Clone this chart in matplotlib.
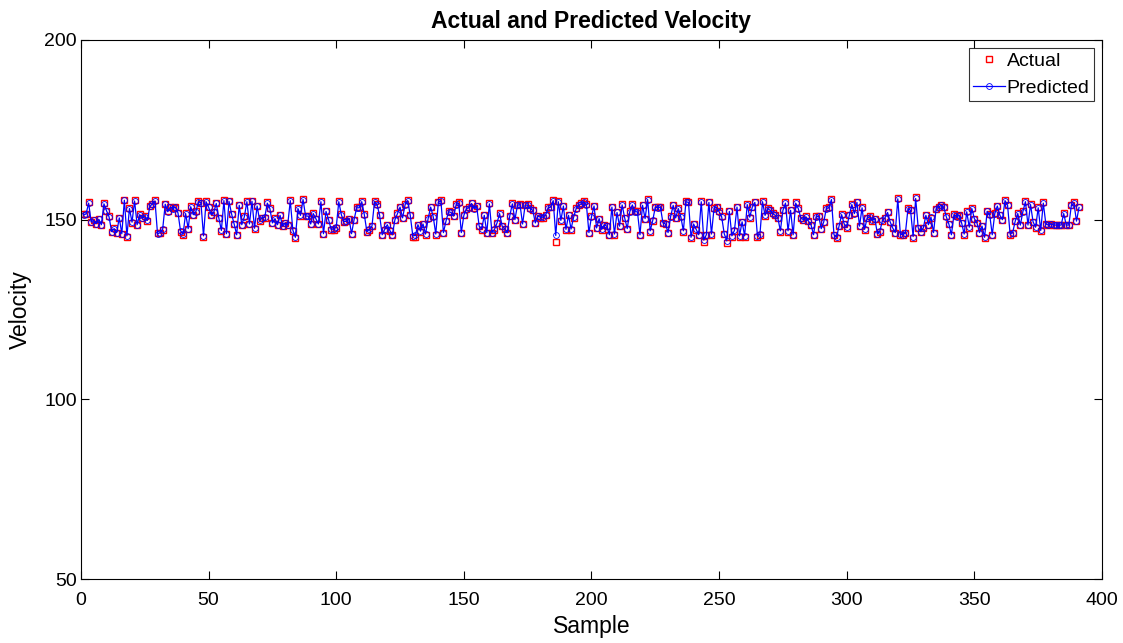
import matplotlib
matplotlib.use("Agg")
import matplotlib.pyplot as plt
import numpy as np

# Values, sample 1..391
actual = [
    151.5, 151.5, 154.8, 149.3, 149.9, 148.7, 150.2, 148.5, 154.6, 152.4, 150.9, 146.5, 147.6, 146.2, 150.4, 146.0, 155.6, 145.3, 153.2, 149.2, 155.4, 148.5, 151.5, 150.4, 150.9, 149.7, 153.9, 154.3, 155.4, 146.2, 146.2, 147.2, 154.4, 152.3, 153.4, 153.2,
    153.6, 151.8, 146.7, 145.8, 151.8, 147.4, 153.7, 151.3, 152.3, 155.2, 154.6, 145.3, 155.2, 153.6, 151.3, 152.1, 154.6, 150.4, 146.9, 155.5, 145.9, 155.2, 151.5, 148.7, 145.6, 154.1, 148.5, 150.9, 155.2, 148.7, 155.2, 147.4, 153.9, 149.7, 150.6, 150.6,
    154.8, 153.2, 149.0, 150.4, 148.5, 151.3, 148.1, 149.0, 148.5, 155.5, 146.9, 144.8, 153.2, 151.1, 155.8, 151.1, 150.9, 148.7, 151.8, 150.2, 148.7, 155.2, 145.9, 152.4, 149.9, 147.2, 147.2, 147.8, 155.2, 151.5, 149.3, 149.7, 150.2, 145.9, 149.9, 153.4,
    153.4, 155.2, 151.5, 146.5, 147.2, 148.1, 155.2, 154.3, 151.3, 145.6, 147.2, 148.5, 146.9, 145.6, 149.9, 151.8, 153.6, 150.4, 154.3, 155.5, 151.3, 145.3, 145.3, 148.5, 146.7, 148.7, 145.8, 150.4, 153.6, 150.9, 145.8, 155.0, 155.5, 146.2, 149.5, 152.3,
    152.1, 150.9, 154.3, 154.8, 146.2, 151.3, 153.0, 153.4, 154.6, 153.2, 153.9, 148.1, 147.2, 151.3, 146.2, 154.6, 146.2, 147.2, 149.0, 151.8, 148.1, 147.4, 146.2, 151.0, 154.6, 149.9, 154.1, 154.3, 148.7, 154.1, 154.3, 153.2, 152.7, 149.0, 151.1, 150.6,
    150.6, 151.3, 153.4, 153.6, 155.5, 143.9, 155.2, 149.7, 153.9, 147.2, 151.3, 147.2, 150.6, 153.2, 154.1, 154.6, 155.2, 154.3, 146.2, 150.9, 153.9, 147.6, 150.2, 147.2, 148.5, 148.1, 145.6, 153.6, 145.8, 152.1, 148.1, 154.3, 150.4, 147.4, 152.3, 154.3,
    152.3, 152.3, 145.6, 154.1, 150.2, 155.8, 146.7, 149.7, 153.6, 153.4, 153.6, 149.0, 148.7, 146.2, 150.9, 154.1, 150.4, 153.2, 150.9, 146.7, 155.2, 155.0, 144.8, 148.7, 147.2, 145.6, 155.2, 143.9, 145.6, 155.0, 145.8, 153.2, 153.6, 152.3, 150.9, 145.9,
    143.6, 152.4, 145.3, 146.9, 153.6, 145.3, 149.3, 145.3, 154.3, 150.6, 153.6, 155.0, 145.3, 145.8, 155.2, 151.1, 153.2, 152.7, 151.8, 151.3, 150.4, 146.7, 152.7, 154.8, 146.7, 152.7, 145.6, 154.8, 153.2, 150.4, 149.9, 150.9, 149.5, 148.5, 145.6, 150.9,
    151.1, 147.4, 149.3, 153.2, 153.4, 155.8, 145.6, 144.8, 148.1, 151.5, 148.7, 147.8, 151.3, 154.3, 151.8, 155.0, 148.1, 153.4, 147.2, 150.4, 150.9, 149.7, 150.2, 145.9, 146.7, 149.7, 150.4, 152.1, 149.3, 147.6, 146.2, 156.0, 145.8, 145.6, 146.2, 153.2,
    152.7, 145.0, 156.2, 147.6, 146.5, 147.6, 151.3, 148.5, 150.6, 146.2, 153.0, 153.6, 154.1, 153.6, 150.9, 148.7, 145.6, 151.5, 150.9, 151.3, 149.0, 145.8, 152.3, 147.8, 153.2, 150.2, 149.0, 146.2, 148.1, 144.8, 152.4, 151.5, 145.6, 151.8, 153.9, 151.3,
    149.9, 155.5, 154.1, 145.8, 146.2, 149.5, 151.8, 148.4, 152.3, 155.2, 148.4, 154.3, 149.3, 147.8, 153.4, 146.9, 154.8, 148.7, 148.4, 148.7, 148.4, 148.4, 148.4, 148.4, 151.8, 148.4, 148.4, 154.1, 154.8, 149.5, 153.6,
]

predicted = [
    151.3, 151.6, 154.6, 149.4, 149.8, 148.9, 150.1, 148.6, 154.4, 152.5, 150.8, 146.7, 147.5, 146.4, 150.5, 146.1, 155.4, 145.5, 153.1, 149.3, 155.2, 148.6, 151.4, 150.5, 150.8, 149.8, 153.7, 154.4, 155.2, 146.0, 146.4, 147.3, 154.3, 152.2, 153.5, 153.1,
    153.5, 151.9, 146.9, 146.0, 151.7, 147.5, 153.6, 151.4, 152.2, 155.0, 154.7, 145.5, 155.0, 153.5, 151.4, 152.0, 154.5, 150.5, 147.0, 155.3, 146.1, 155.1, 151.6, 148.8, 145.8, 154.0, 148.6, 150.8, 155.0, 148.8, 155.1, 147.6, 153.8, 149.8, 150.5, 150.7,
    154.6, 153.1, 149.1, 150.3, 148.6, 151.2, 148.2, 149.1, 148.6, 155.3, 147.1, 145.1, 153.1, 151.2, 155.6, 151.0, 151.0, 148.8, 151.7, 150.3, 148.8, 155.0, 146.1, 152.3, 150.0, 147.3, 147.4, 147.9, 155.0, 151.4, 149.4, 149.6, 150.3, 146.1, 150.0, 153.3,
    153.3, 155.0, 151.4, 146.7, 147.3, 148.2, 155.0, 154.2, 151.2, 145.8, 147.3, 148.6, 147.0, 145.8, 150.0, 151.7, 153.5, 150.5, 154.2, 155.3, 151.2, 145.5, 145.6, 148.6, 146.8, 148.8, 146.0, 150.3, 153.5, 150.8, 146.0, 154.8, 155.3, 146.4, 149.6, 152.2,
    152.0, 151.0, 154.2, 154.6, 146.4, 151.2, 153.1, 153.3, 154.5, 153.1, 153.8, 148.2, 147.4, 151.2, 146.4, 154.4, 146.4, 147.3, 149.1, 151.7, 148.2, 147.5, 146.4, 151.1, 154.4, 150.0, 154.0, 154.2, 148.8, 154.0, 154.1, 153.1, 152.6, 149.1, 151.0, 150.7,
    150.7, 151.2, 153.3, 153.5, 155.3, 145.6, 155.0, 149.8, 153.8, 147.3, 151.2, 147.4, 150.7, 153.1, 154.0, 154.4, 155.0, 154.2, 146.4, 150.8, 153.8, 147.7, 150.3, 147.3, 148.6, 148.2, 145.8, 153.5, 146.0, 152.0, 148.2, 154.1, 150.5, 147.5, 152.2, 154.1,
    152.2, 152.2, 145.8, 154.0, 150.3, 155.6, 146.9, 149.8, 153.5, 153.3, 153.5, 149.1, 148.8, 146.4, 150.8, 154.0, 150.5, 153.1, 150.8, 146.9, 155.0, 154.8, 145.1, 148.8, 147.3, 145.8, 155.0, 144.3, 145.8, 154.8, 146.0, 153.1, 153.5, 152.2, 150.8, 146.1,
    144.1, 152.3, 145.5, 147.0, 153.5, 145.5, 149.4, 145.5, 154.2, 150.7, 153.5, 154.8, 145.5, 146.0, 155.0, 151.2, 153.1, 152.6, 151.7, 151.2, 150.5, 146.9, 152.6, 154.6, 146.9, 152.6, 145.8, 154.6, 153.1, 150.5, 150.0, 150.8, 149.6, 148.6, 145.8, 150.8,
    151.0, 147.5, 149.4, 153.1, 153.3, 155.6, 145.8, 145.1, 148.2, 151.4, 148.8, 147.9, 151.2, 154.2, 151.7, 154.8, 148.2, 153.3, 147.3, 150.5, 150.8, 149.8, 150.3, 146.1, 146.9, 149.8, 150.5, 152.0, 149.4, 147.7, 146.4, 155.8, 146.0, 145.8, 146.4, 153.1,
    152.6, 145.3, 155.9, 147.7, 146.7, 147.7, 151.2, 148.6, 150.7, 146.4, 153.0, 153.5, 154.0, 153.5, 150.8, 148.8, 145.8, 151.4, 150.8, 151.2, 149.1, 146.0, 152.2, 147.9, 153.1, 150.3, 149.1, 146.4, 148.2, 145.1, 152.3, 151.4, 145.8, 151.7, 153.8, 151.2,
    150.0, 155.3, 154.0, 146.0, 146.4, 149.6, 151.7, 148.5, 152.2, 155.0, 148.5, 154.2, 149.4, 147.9, 153.3, 147.0, 154.6, 148.8, 148.5, 148.8, 148.5, 148.5, 148.5, 148.5, 151.7, 148.5, 148.5, 154.0, 154.6, 149.6, 153.4,
]

samples = np.arange(1, len(actual) + 1)

plt.rcParams["font.family"] = ["Liberation Sans", "DejaVu Sans"]

fig = plt.figure(figsize=(11.23, 6.43), dpi=100)
ax = fig.add_axes([0.0721, 0.0995, 0.9092, 0.8383])

ax.plot(samples, actual, linestyle="none", marker="s", markersize=4,
        markerfacecolor="none", markeredgecolor="red", markeredgewidth=1.0,
        label="Actual")
ax.plot(samples, predicted, color="blue", linewidth=0.9, marker="o",
        markersize=4.2, markerfacecolor="none", markeredgecolor="blue",
        markeredgewidth=0.6, label="Predicted")

ax.set_xlim(0, 400)
ax.set_ylim(50, 200)
ax.set_xticks(np.arange(0, 401, 50))
ax.set_yticks([50, 100, 150, 200])
ax.tick_params(direction="in", labelsize=14, top=True, right=True, length=6)
ax.tick_params(axis="x", pad=9)
ax.tick_params(axis="y", pad=3)
for s in ax.spines.values():
    s.set_linewidth(0.8)

ax.set_title("Actual and Predicted Velocity", fontsize=16.5, fontweight="bold", pad=8.5)
ax.set_xlabel("Sample", fontsize=16.5, labelpad=5)
ax.set_ylabel("Velocity", fontsize=16.5, labelpad=9)

leg = ax.legend(loc="upper right", fontsize=14, frameon=True, fancybox=False,
                edgecolor="black", handlelength=1.6, handletextpad=0.1,
                borderpad=0.25, labelspacing=0.45, borderaxespad=0.4)
leg.get_frame().set_linewidth(0.8)

fig.savefig("out.png", dpi=100)
